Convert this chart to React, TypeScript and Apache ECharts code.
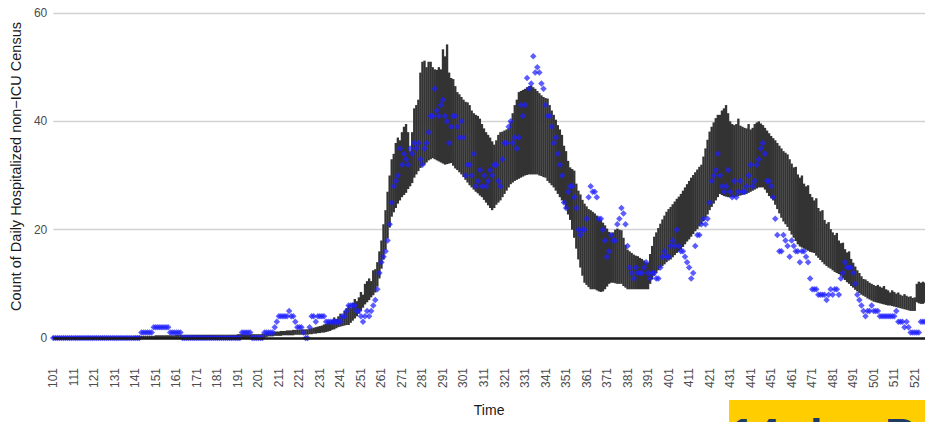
import React, { useEffect, useRef } from "react";
import * as echarts from "echarts";

const FIRST_DAY = 101;
const LAST_DAY = 526;
const days: string[] = [];
for (let d = FIRST_DAY; d <= LAST_DAY; d++) days.push(String(d));

// Upper edge of the projected band, days 101..526
const bandHigh: number[] = [
  0.3,0.3,0.3,0.3,0.3,0.3,0.3,0.3,0.3,0.3,
  0.3,0.3,0.3,0.3,0.3,0.3,0.3,0.3,0.3,0.3,
  0.3,0.3,0.3,0.3,0.3,0.3,0.3,0.3,0.3,0.3,
  0.3,0.3,0.3,0.3,0.3,0.3,0.3,0.3,0.3,0.3,
  0.4,0.4,0.4,0.4,0.4,0.4,0.4,0.4,0.4,0.4,
  0.5,0.5,0.5,0.5,0.5,0.5,0.5,0.5,0.5,0.5,
  0.6,0.6,0.6,0.6,0.6,0.6,0.6,0.6,0.6,0.6,
  0.6,0.6,0.6,0.6,0.6,0.6,0.6,0.6,0.6,0.6,
  0.6,0.6,0.6,0.6,0.6,0.6,0.6,0.6,0.6,0.6,
  0.7,0.7,0.7,0.7,0.7,0.7,0.7,0.7,0.7,0.7,
  0.7,0.7,0.8,0.8,0.9,1.0,1.1,1.1,1.2,1.2,
  1.2,1.3,1.3,1.3,1.4,1.4,1.4,1.5,1.5,1.5,
  1.5,1.6,1.6,1.6,1.6,1.7,1.8,1.9,2.0,2.1,
  2.2,2.3,2.5,2.6,2.8,3.0,3.3,3.8,3.5,4.0,
  4.5,4.2,5.0,5.5,6.0,5.6,6.5,7.2,6.8,7.5,
  8.5,8.0,10.0,10.5,11.0,10.5,12.5,12.7,14.0,16.0,
  18.0,21.0,23.6,27.0,30.0,33.0,34.0,36.0,37.0,36.5,
  38.0,39.0,39.5,38.0,34.5,38.0,42.4,43.0,44.0,49.0,
  51.0,51.2,50.0,51.0,51.0,50.0,49.6,49.5,50.0,49.6,
  53.3,52.0,54.2,49.0,48.0,47.8,46.5,45.4,45.0,44.5,
  44.0,43.6,43.5,43.0,42.0,41.5,41.2,41.0,40.5,39.5,
  38.7,38.0,37.5,37.0,36.3,35.7,36.5,37.5,38.0,38.1,
  38.3,38.5,38.7,40.0,41.5,43.0,44.0,45.4,45.6,45.8,
  46.0,46.3,46.5,46.6,46.3,46.0,45.6,45.2,44.8,44.5,
  44.3,44.2,43.0,42.0,41.2,40.3,39.3,38.5,37.5,35.5,
  34.5,32.7,31.5,31.2,30.9,28.5,27.2,26.5,25.5,24.8,
  24.3,23.8,23.6,23.3,23.0,22.6,22.2,21.8,21.3,20.8,
  20.2,19.6,19.3,19.5,20.0,20.2,20.0,19.9,18.5,17.2,
  16.3,16.0,15.7,15.4,15.2,15.1,14.8,14.6,14.3,14.0,
  13.9,15.5,17.0,18.7,19.5,20.3,21.1,21.9,22.6,23.3,
  23.8,24.2,24.7,25.2,25.7,26.1,26.6,27.2,27.8,28.4,
  29.0,29.6,30.1,30.6,31.1,31.6,32.0,33.5,35.0,36.6,
  38.1,39.0,39.8,40.6,41.2,41.2,42.0,42.4,43.0,41.5,
  40.0,39.5,39.3,39.5,40.5,39.2,39.0,38.8,38.7,39.5,
  38.5,38.8,39.5,39.8,40.0,39.6,39.3,38.8,38.3,37.8,
  37.3,36.9,36.5,36.0,35.5,35.0,34.5,34.2,33.9,33.0,
  32.2,31.5,31.6,30.2,29.6,30.0,28.5,28.0,28.2,26.6,
  26.0,25.4,25.8,24.0,23.4,23.6,21.8,21.1,21.4,20.1,
  19.5,19.0,19.4,18.0,17.5,17.6,16.4,15.8,16.0,14.6,
  13.9,13.2,12.5,12.0,11.4,10.9,10.8,10.5,10.2,10.0,
  9.8,9.6,9.8,9.5,9.3,9.6,9.0,8.8,8.4,8.8,
  8.5,8.2,8.4,8.0,7.8,8.1,7.8,7.6,7.7,7.4,
  7.5,10.0,10.4,10.2,10.4,10.2,
];

// Lower edge of the projected band, days 101..526
const bandLow: number[] = [
  0,0,0,0,0,0,0,0,0,0,
  0,0,0,0,0,0,0,0,0,0,
  0,0,0,0,0,0,0,0,0,0,
  0,0,0,0,0,0,0,0,0,0,
  0,0,0,0,0,0,0,0,0,0,
  0,0,0,0,0,0,0,0,0,0,
  0,0,0,0,0,0,0,0,0,0,
  0,0,0,0,0,0,0,0,0,0,
  0,0,0,0,0,0,0,0,0,0,
  0,0,0,0,0,0,0,0,0,0,
  0.1,0.1,0.1,0.1,0.2,0.3,0.3,0.3,0.4,0.4,
  0.4,0.4,0.5,0.5,0.5,0.5,0.5,0.5,0.6,0.6,
  0.6,0.6,0.6,0.6,0.6,0.7,0.7,0.8,0.8,0.9,
  0.9,1.0,1.0,1.1,1.2,1.3,1.5,1.6,1.8,2.0,
  2.1,2.2,2.3,2.4,2.4,2.8,3.2,3.6,4.0,4.5,
  5.0,5.6,6.2,6.6,7.0,7.5,7.9,8.4,9.5,11.0,
  12.8,14.5,16.3,18.4,20.4,22.4,23.2,24.0,24.8,25.4,
  26.0,26.4,26.8,27.5,28.0,28.6,29.6,30.2,30.8,31.4,
  31.8,32.0,32.4,32.8,33.0,33.2,33.0,32.8,32.6,32.4,
  32.2,32.0,32.1,32.2,32.3,31.8,31.3,31.0,30.6,30.2,
  29.7,29.2,28.7,28.2,27.8,27.4,27.0,26.7,26.3,26.0,
  25.5,25.0,24.5,24.0,23.6,24.0,24.6,25.0,25.4,26.0,
  26.6,27.2,27.8,28.4,28.7,29.0,29.2,29.4,29.6,29.8,
  30.0,30.1,30.2,30.2,30.2,30.2,30.2,30.0,29.9,29.7,
  29.6,29.0,28.6,28.2,27.8,27.2,26.6,26.0,25.4,24.8,
  23.8,22.8,21.8,20.0,18.5,16.5,14.5,13.0,11.5,10.2,
  9.8,9.4,9.0,9.0,9.0,8.8,8.6,8.5,8.6,9.0,
  9.5,10.0,10.2,10.2,10.1,10.0,10.0,10.0,9.6,9.3,
  9.0,9.0,9.0,9.0,9.0,9.0,9.0,9.0,9.0,9.0,
  9.0,10.0,10.8,11.5,12.0,12.5,13.0,13.3,13.6,14.0,
  14.3,14.5,14.9,15.3,15.7,16.0,16.3,16.8,17.3,17.8,
  18.2,18.7,19.2,19.7,20.1,20.6,21.0,21.6,22.2,22.8,
  23.6,24.2,24.8,25.4,26.0,26.6,26.4,26.2,26.1,26.0,
  26.0,26.0,26.0,26.1,26.2,26.3,26.4,26.5,26.6,26.8,
  27.0,27.2,27.4,27.6,27.8,27.8,27.8,27.4,26.8,26.2,
  25.8,25.4,24.6,23.8,23.0,22.2,21.5,21.0,20.5,19.8,
  19.1,18.5,17.9,17.3,16.9,16.7,16.5,16.3,16.1,15.9,
  15.8,15.7,15.2,14.8,14.4,14.0,13.6,13.3,13.0,12.8,
  12.5,12.2,12.0,11.8,11.5,11.1,10.7,10.3,10.0,9.6,
  9.3,8.9,8.6,8.3,8.0,7.8,7.6,7.3,7.1,6.9,
  6.7,6.6,6.5,6.4,6.3,6.2,6.1,6.0,6.0,5.9,
  5.8,5.7,5.6,5.5,5.4,5.3,5.2,5.1,5.0,5.0,
  5.0,6.6,6.4,6.3,6.3,6.5,
];

// Observed daily census, days 101..526
const observed: number[] = [
  0,0,0,0,0,0,0,0,0,0,
  0,0,0,0,0,0,0,0,0,0,
  0,0,0,0,0,0,0,0,0,0,
  0,0,0,0,0,0,0,0,0,0,
  0,0,0,1,1,1,1,1,1,2,
  2,2,2,2,2,2,2,1,1,1,
  1,1,1,0,0,0,0,0,0,0,
  0,0,0,0,0,0,0,0,0,0,
  0,0,0,0,0,0,0,0,0,0,
  0,0,1,1,1,1,1,0,0,0,
  0,0,0,1,1,1,1,1,2,3,
  4,4,4,4,4,5,4,4,3,2,
  2,2,1,0,0,2,4,4,3,4,
  4,4,4,3,3,3,3,3,3,3,
  3,4,4,5,6,6,6,6,5,5,
  4,3,4,5,4,5,6,7,9,12,
  14,15,16,18,21,25,28,29,30,35,
  32,34,33,32,35,34,36,35,36,33,
  32,35,36,38,41,41,46,42,41,43,
  44,41,40,36,39,41,41,39,37,40,
  37,30,32,32,30,34,28,29,31,28,
  30,28,29,31,30,32,32,29,28,33,
  36,36,39,40,36,37,35,37,43,41,
  43,48,46,47,52,49,50,49,47,46,
  43,41,41,39,36,37,34,32,30,25,
  24,27,28,28,26,24,20,19,20,20,
  22,26,28,27,27,26,22,22,20,18,
  15,16,19,18,18,21,22,24,23,21,
  17,13,12,11,13,12,12,12,13,14,
  12,11,12,12,11,11,13,15,16,15,
  15,17,18,17,20,17,16,16,15,14,
  13,11,12,17,19,19,21,22,21,22,
  25,29,30,31,34,30,28,27,28,31,
  27,26,29,26,27,29,27,27,28,30,
  32,28,29,32,33,35,36,34,29,29,
  28,26,22,19,16,16,19,18,17,15,
  18,17,16,16,14,16,16,15,14,11,
  9,9,9,8,8,8,8,7,8,9,
  8,9,9,8,11,12,14,13,13,13,
  12,10,8,7,6,5,4,5,5,6,
  5,5,5,4,4,4,4,4,4,4,
  4,5,3,3,3,2,3,2,1,1,
  1,1,1,3,3,3,
];

const yTicks = { min: 0, max: 60, step: 20 };
const FONT = '"Liberation Sans", Arial, Helvetica, sans-serif';

export default function App() {
  const ref = useRef<HTMLDivElement>(null);
  useEffect(() => {
    if (!ref.current) return;
    const chart = echarts.init(ref.current, undefined, { renderer: "svg" });
    const bandData = days.map((_, i) => [i, bandLow[i], bandHigh[i]]);
    chart.setOption({
      animation: false,
      backgroundColor: "#ffffff",
      textStyle: { fontFamily: FONT },
      grid: { left: 49, right: 0, top: 13, bottom: 79, containLabel: false },
      xAxis: {
        type: "category",
        data: days,
        boundaryGap: false,
        axisLine: { show: false },
        axisTick: { show: false },
        splitLine: { show: false },
        axisLabel: {
          interval: 9,
          rotate: 90,
          margin: 30,
          fontSize: 12,
          color: "#4d4d4d",
          fontFamily: FONT,
        },
        name: "Time",
        nameLocation: "middle",
        nameGap: 65,
        nameTextStyle: { fontSize: 14, color: "#1a1a1a", fontFamily: FONT },
      },
      yAxis: {
        type: "value",
        min: yTicks.min,
        max: yTicks.max,
        interval: yTicks.step,
        axisLine: { show: false },
        axisTick: { show: false },
        axisLabel: { margin: 6, fontSize: 12, color: "#4d4d4d", fontFamily: FONT },
        splitLine: { lineStyle: { color: "#d2d2d2", width: 1.3 } },
        name: "Count of Daily Hospitalized non\u2212ICU Census",
        nameLocation: "middle",
        nameGap: 24,
        nameTextStyle: {
          fontSize: 14.5,
          color: "#1a1a1a",
          fontFamily: FONT,
          padding: [0, 0, 0, 18],
        },
      },
      series: [
        {
          type: "custom",
          name: "Projection",
          data: bandData,
          encode: { x: 0, y: [1, 2] },
          z: 2,
          renderItem: (_params: any, api: any) => {
            const idx = api.value(0);
            const lo = api.coord([idx, api.value(1)]);
            const hi = api.coord([idx, api.value(2)]);
            const w = api.size([1, 0])[0];
            return {
              type: "rect",
              shape: {
                x: lo[0] - w * 0.5 - 0.15,
                y: hi[1],
                width: w + 0.3,
                height: Math.max(lo[1] - hi[1], 0.6),
              },
              style: { fill: "#333333" },
            };
          },
        },
        {
          type: "scatter",
          name: "Observed",
          data: observed,
          symbol: "diamond",
          symbolSize: 6.5,
          z: 3,
          itemStyle: { color: "rgba(30,30,255,0.9)" },
          markLine: {
            silent: true,
            symbol: ["none", "none"],
            label: { show: false },
            lineStyle: { color: "#1a1a1a", width: 2.5, type: "solid" },
            data: [{ yAxis: 0 }],
            z: 5,
          },
        },
      ],
      graphic: [
        {
          type: "rect",
          shape: { x: 729, y: 400, width: 200, height: 30 },
          style: { fill: "#FFCD00" },
          z: 100,
        },
        {
          type: "text",
          x: 730,
          y: 412,
          style: {
            text: "14-day P",
            fontSize: 45,
            fontWeight: "bold",
            fontFamily: FONT,
            fill: "#1f3b63",
            verticalAlign: "top",
          },
          z: 101,
        },
      ],
    });
    return () => chart.dispose();
  }, []);
  return (
    <div
      ref={ref}
      style={{ position: "fixed", left: 0, top: 0, width: 925, height: 422, overflow: "hidden" }}
    />
  );
}
